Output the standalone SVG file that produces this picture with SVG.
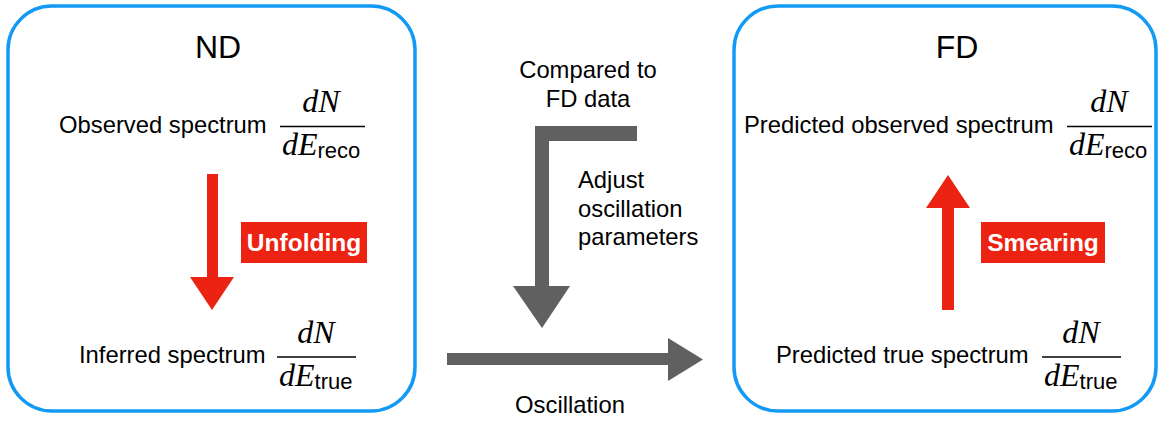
<svg xmlns="http://www.w3.org/2000/svg" width="1159" height="424" viewBox="0 0 1159 424">
  <style>
    .box { fill: #ffffff; stroke: #139af5; stroke-width: 3.5; }
    .title { font-family: "Liberation Sans", Arial, sans-serif; font-size: 32px; fill: #000; text-anchor: middle; }
    .lbl { font-family: "Liberation Sans", Arial, sans-serif; font-size: 23.8px; fill: #000; }
    .mid { text-anchor: middle; }
    .math { font-family: "Liberation Serif", "Times New Roman", serif; font-style: italic; font-size: 32px; fill: #000; }
    .sub { font-family: "Liberation Sans", Arial, sans-serif; font-style: normal; font-size: 22px; }
    .bar { stroke: #000; stroke-width: 1.6; }
    .red { fill: #ec2312; }
    .grey { fill: #606060; }
    .tag { font-family: "Liberation Sans", Arial, sans-serif; font-weight: bold; font-size: 24.5px; fill: #ffffff; text-anchor: middle; }
  </style>

  <!-- Near detector -->
  <g id="nd">
    <rect class="box" x="8" y="6" width="407" height="405" rx="44" ry="44"/>
    <text class="title" x="218" y="58">ND</text>
    <text class="lbl" x="59" y="133">Observed spectrum</text>
    <text class="math" x="321" y="112" text-anchor="middle">dN</text>
    <line class="bar" x1="280" y1="126.5" x2="365" y2="126.5"/>
    <text class="math" x="282" y="155">dE<tspan class="sub" dy="3">reco</tspan></text>
    <text class="lbl" x="79" y="363">Inferred spectrum</text>
    <text class="math" x="316" y="343" text-anchor="middle">dN</text>
    <line class="bar" x1="277" y1="357" x2="356" y2="357"/>
    <text class="math" x="279" y="386">dE<tspan class="sub" dy="3">true</tspan></text>
  </g>

  <!-- Far detector -->
  <g id="fd">
    <rect class="box" x="734" y="6" width="422" height="405" rx="44" ry="44"/>
    <text class="title" x="957" y="58">FD</text>
    <text class="lbl" x="744" y="133">Predicted observed spectrum</text>
    <text class="math" x="1109" y="112" text-anchor="middle">dN</text>
    <line class="bar" x1="1067" y1="126.5" x2="1152" y2="126.5"/>
    <text class="math" x="1069" y="155">dE<tspan class="sub" dy="3">reco</tspan></text>
    <text class="lbl" x="776" y="363">Predicted true spectrum</text>
    <text class="math" x="1081" y="343" text-anchor="middle">dN</text>
    <line class="bar" x1="1042" y1="357" x2="1121" y2="357"/>
    <text class="math" x="1044" y="386">dE<tspan class="sub" dy="3">true</tspan></text>
  </g>

  <!-- Unfolding step -->
  <g id="unfolding">
    <polygon class="red" points="207,174 218,174 218,277 234,277 212,310 190,277 207,277"/>
    <rect class="red" x="241" y="222" width="126" height="41"/>
    <text class="tag" x="304" y="251">Unfolding</text>
  </g>

  <!-- Smearing step -->
  <g id="smearing">
    <polygon class="red" points="942,310 954,310 954,208 970,208 948,175 926,208 942,208"/>
    <rect class="red" x="981" y="222" width="124" height="41"/>
    <text class="tag" x="1043" y="251">Smearing</text>
  </g>

  <!-- Fit loop and oscillation -->
  <g id="connectors">
    <polygon class="grey" points="637,126 637,141 549,141 549,286 570,286 542,328 513,286 535,286 535,126"/>
    <polygon class="grey" points="447,353 668,353 668,338 703,359.5 668,381 668,365 447,365"/>
  </g>

  <g id="labels">
    <text class="lbl mid" x="588" y="78">Compared to</text>
    <text class="lbl mid" x="588" y="107">FD data</text>
    <text class="lbl" x="578" y="188">Adjust</text>
    <text class="lbl" x="578" y="217">oscillation</text>
    <text class="lbl" x="578" y="245">parameters</text>
    <text class="lbl mid" x="570" y="413">Oscillation</text>
  </g>
</svg>
